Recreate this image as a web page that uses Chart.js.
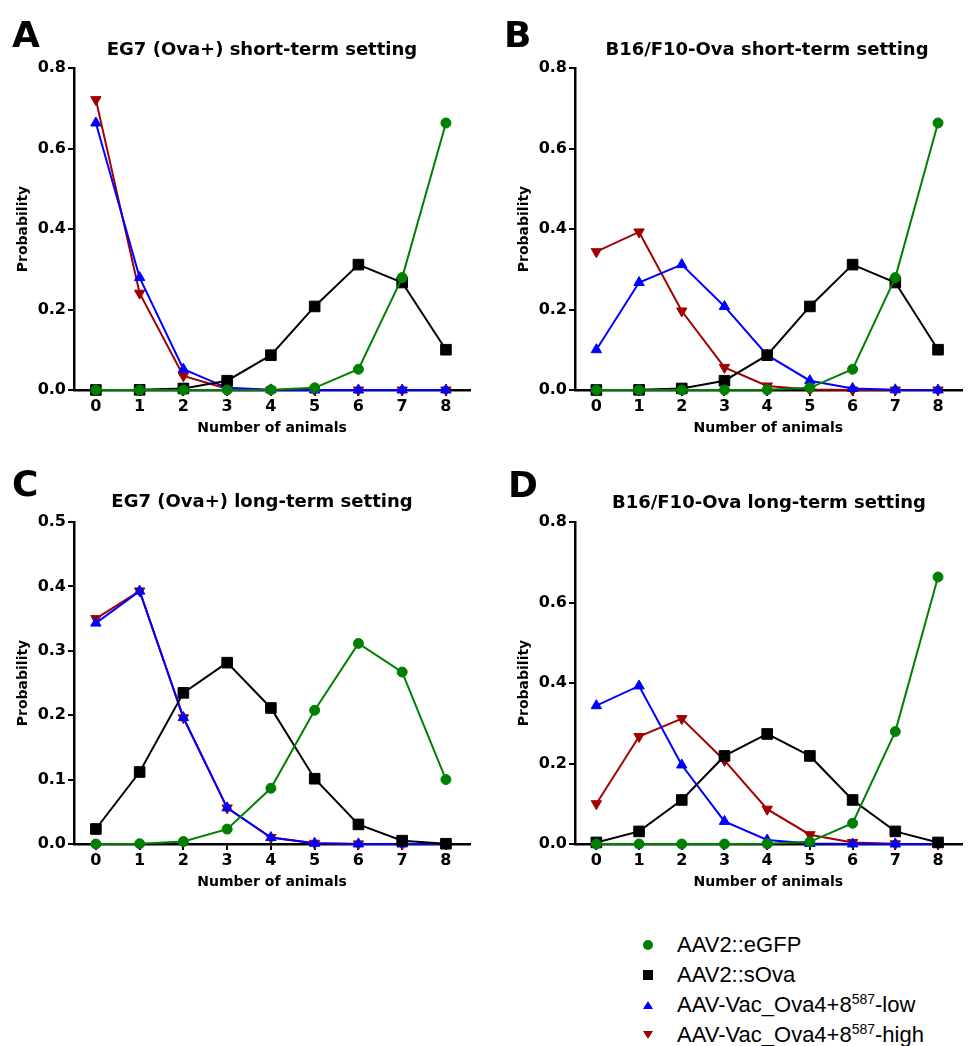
<!DOCTYPE html>
<html>
<head>
<meta charset="utf-8">
<script src="https://cdn.jsdelivr.net/npm/chart.js@4.4.1/dist/chart.umd.min.js"></script>
<style>
  body { margin: 0; background: #fff; }
  #page { position: relative; width: 970px; height: 1046px; overflow: hidden; background: #fff; }
  #page canvas { position: absolute; }
  .letter { position: absolute; font: bold 36px "DejaVu Sans", sans-serif; line-height: 36px; color: #000; }
  .title { position: absolute; width: 440px; text-align: center; font: bold 18px "DejaVu Sans", sans-serif; line-height: 18px; white-space: nowrap; color: #000; }
  #legend { position: absolute; left: 640px; top: 930px; font: 22px "Liberation Sans", Arial, sans-serif; color: #000; }
  #legend .row { display: flex; align-items: center; height: 30px; white-space: nowrap; }
  #legend svg { width: 16px; height: 16px; margin-right: 21px; flex: none; }
  #legend sup { font-size: 14px; vertical-align: 8px; line-height: 0; }
</style>
</head>
<body>
<div id="page">
  <canvas id="chartA" width="485" height="440" style="left:0px; top:0px"></canvas>
  <canvas id="chartB" width="469" height="440" style="left:501px; top:0px"></canvas>
  <canvas id="chartC" width="485" height="440" style="left:0px; top:454px"></canvas>
  <canvas id="chartD" width="469" height="440" style="left:501px; top:454px"></canvas>

  <div class="letter" style="left:12px; top:17px">A</div>
  <div class="letter" style="left:504px; top:17px">B</div>
  <div class="letter" style="left:12px; top:466px">C</div>
  <div class="letter" style="left:508px; top:467px">D</div>

  <div class="title" style="left:42px; top:40px">EG7 (Ova+) short-term setting</div>
  <div class="title" style="left:547px; top:40px">B16/F10-Ova short-term setting</div>
  <div class="title" style="left:42px; top:492px">EG7 (Ova+) long-term setting</div>
  <div class="title" style="left:549px; top:493px">B16/F10-Ova long-term setting</div>

  <div id="legend"></div>
</div>
<script>
// x categories: number of animals
const animals = [0, 1, 2, 3, 4, 5, 6, 7, 8];

// y tick labels
const yTicksShort = [0, 0.2, 0.4, 0.6, 0.8];
const yTicksEG7Long = [0, 0.1, 0.2, 0.3, 0.4, 0.5];
const yTicksB16Long = [0, 0.2, 0.4, 0.6, 0.8];

// series (legend order)
const seriesNames = ['AAV2::eGFP', 'AAV2::sOva', 'AAV-Vac_Ova4+8<sup>587</sup>-low', 'AAV-Vac_Ova4+8<sup>587</sup>-high'];
const seriesColors = ['#008000', '#000000', '#0000ff', '#a00000'];
const seriesShapes = ['circle', 'rect', 'triangle', 'triangle'];

// A: EG7 (Ova+) short-term
const aEgfp = [0, 0, 0, 0, 0.0004, 0.0054, 0.0515, 0.2793, 0.6634];
const aSova = [0, 0.0004, 0.0038, 0.0231, 0.0865, 0.2076, 0.3115, 0.2670, 0.1001];
const aLow  = [0.6634, 0.2793, 0.0515, 0.0054, 0.0004, 0, 0, 0, 0];
const aHigh = [0.7214, 0.2405, 0.0351, 0.0029, 0.0001, 0, 0, 0, 0];

// B: B16/F10-Ova short-term
const bEgfp = [0, 0, 0, 0, 0.0004, 0.0054, 0.0515, 0.2793, 0.6634];
const bSova = [0, 0.0004, 0.0038, 0.0231, 0.0865, 0.2076, 0.3115, 0.2670, 0.1001];
const bLow  = [0.1001, 0.2670, 0.3115, 0.2076, 0.0865, 0.0231, 0.0038, 0.0004, 0];
const bHigh = [0.3436, 0.3927, 0.1963, 0.0561, 0.0100, 0.0011, 0.0001, 0, 0];

// C: EG7 (Ova+) long-term
const cEgfp = [0, 0.0004, 0.0038, 0.0231, 0.0865, 0.2076, 0.3115, 0.2670, 0.1001];
const cSova = [0.0233, 0.1118, 0.2347, 0.2816, 0.2112, 0.1014, 0.0304, 0.0052, 0.0004];
const cLow  = [0.3430, 0.3927, 0.1963, 0.0561, 0.0100, 0.0011, 0.0001, 0, 0];
const cHigh = [0.3500, 0.3930, 0.1960, 0.0560, 0.0100, 0.0011, 0.0001, 0, 0];

// D: B16/F10-Ova long-term
const dEgfp = [0, 0, 0, 0, 0.0004, 0.0054, 0.0515, 0.2793, 0.6634];
const dSova = [0.0039, 0.0313, 0.1094, 0.2188, 0.2734, 0.2188, 0.1094, 0.0313, 0.0039];
const dLow  = [0.3436, 0.3927, 0.1963, 0.0561, 0.0100, 0.0011, 0.0001, 0, 0];
const dHigh = [0.1001, 0.2670, 0.3115, 0.2076, 0.0865, 0.0231, 0.0038, 0.0004, 0];

const pointRadius = [5, 7.5, 6, 6];
const pointRotation = [0, 0, 0, 180];
const tickFont = { family: 'DejaVu Sans', weight: 'bold', size: 16 };
const axisTitleFont = { family: 'DejaVu Sans', weight: 'bold', size: 14 };

function plain(html) {
  return html.replace(/<[^>]+>/g, '');
}

function makePanel(id, series, yTicks, padRight) {
  new Chart(document.getElementById(id), {
    type: 'line',
    data: {
      datasets: series.map((vals, i) => ({
        label: plain(seriesNames[i]),
        data: animals.map((a, j) => ({ x: a, y: vals[j] })),
        borderColor: seriesColors[i],
        backgroundColor: seriesColors[i],
        borderWidth: 2,
        pointStyle: seriesShapes[i],
        pointRadius: pointRadius[i],
        pointRotation: pointRotation[i],
        pointBorderWidth: 1,
        tension: 0,
        clip: false,
      })),
    },
    options: {
      responsive: false,
      animation: false,
      devicePixelRatio: 1,
      events: [],
      layout: { padding: { top: 68, right: padRight, bottom: 0, left: 0 } },
      plugins: { legend: { display: false }, tooltip: { enabled: false } },
      scales: {
        x: {
          type: 'linear',
          min: -0.5,
          max: 8.55,
          afterBuildTicks: s => { s.ticks = animals.map(v => ({ value: v })); },
          afterFit: s => { s.height = 50; },
          border: { color: '#000', width: 2.5 },
          grid: { drawOnChartArea: false, color: '#000', lineWidth: 2, tickLength: 6 },
          ticks: { color: '#000', font: tickFont, padding: 1, autoSkip: false, maxRotation: 0, callback: v => String(v) },
          title: { display: true, text: 'Number of animals', color: '#000', font: axisTitleFont, padding: { top: 0, bottom: 3 } },
        },
        y: {
          min: 0,
          max: yTicks[yTicks.length - 1],
          afterBuildTicks: s => { s.ticks = yTicks.map(v => ({ value: v })); },
          afterFit: s => { s.width = 74; },
          border: { color: '#000', width: 2.5 },
          grid: { drawOnChartArea: false, color: '#000', lineWidth: 2, tickLength: 6 },
          ticks: { color: '#000', font: tickFont, padding: 2, callback: v => v.toFixed(1) },
          title: { display: true, text: 'Probability', color: '#000', font: axisTitleFont, padding: { top: 15, bottom: 0 } },
        },
      },
    },
  });
}

makePanel('chartA', [aEgfp, aSova, aLow, aHigh], yTicksShort, 15);
makePanel('chartB', [bEgfp, bSova, bLow, bHigh], yTicksShort, 0);
makePanel('chartC', [cEgfp, cSova, cLow, cHigh], yTicksEG7Long, 15);
makePanel('chartD', [dEgfp, dSova, dLow, dHigh], yTicksB16Long, 0);

// legend
function markerSvg(shape, color, rot) {
  let s;
  if (shape === 'circle') s = '<circle cx="8" cy="8" r="5" fill="' + color + '"/>';
  else if (shape === 'rect') s = '<rect x="3" y="3" width="10" height="10" fill="' + color + '"/>';
  else if (rot) s = '<polygon points="3,4 13,4 8,12" fill="' + color + '"/>';
  else s = '<polygon points="8,4 13,12 3,12" fill="' + color + '"/>';
  return '<svg viewBox="0 0 16 16">' + s + '</svg>';
}
document.getElementById('legend').innerHTML = seriesNames.map((name, i) =>
  '<div class="row">' + markerSvg(seriesShapes[i], seriesColors[i], pointRotation[i]) + '<span>' + name + '</span></div>'
).join('');
</script>
</body>
</html>
